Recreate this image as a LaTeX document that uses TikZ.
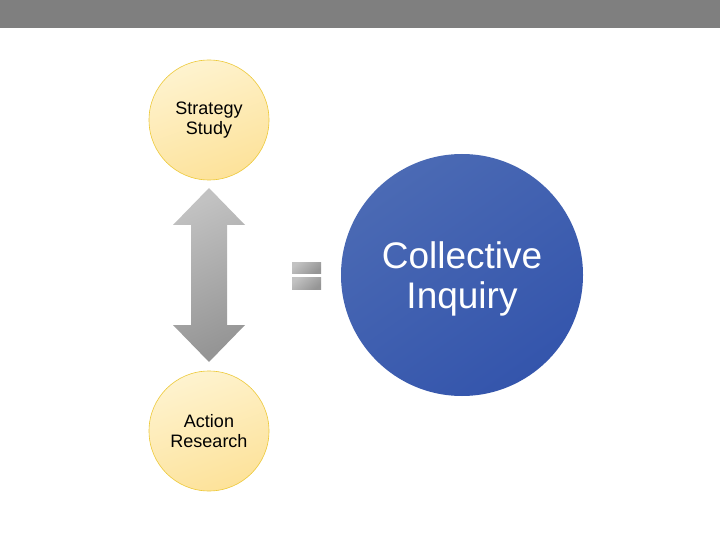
\documentclass[tikz,border=0pt]{standalone}
\usepackage{fontspec}
\setmainfont{Liberation Sans}
\definecolor{topbar}{HTML}{7F7F7F}
\definecolor{ylwA}{HTML}{FEF3CF}
\definecolor{ylwB}{HTML}{FDE29A}
\definecolor{ylwE}{HTML}{EDC938}
\definecolor{bluA}{HTML}{4B6AB4}
\definecolor{bluB}{HTML}{3455AC}
\definecolor{gryA}{HTML}{C2C2C2}
\definecolor{gryB}{HTML}{959595}
\begin{document}
\begin{tikzpicture}[x=1pt,y=-1pt,
  smallcircle/.style={circle,draw=ylwE,line width=0.6pt,minimum size=120pt,inner sep=0pt,
    top color=ylwA,bottom color=ylwB,shading angle=20,align=center,
    font=\fontsize{18}{20.5}\selectfont},
  bigcircle/.style={circle,minimum size=242pt,inner sep=0pt,
    top color=bluA,bottom color=bluB,shading angle=35,text=white,align=center,
    font=\fontsize{37}{41}\selectfont},
  grayshape/.style={top color=gryA,bottom color=gryB,draw=none}]
\useasboundingbox (0,0) rectangle (720,540);
\fill[white] (0,0) rectangle (720,540);
\fill[topbar] (0,0) rectangle (720,28);
\node[smallcircle] (ss) at (209,120) {Strategy\\Study};
\node[smallcircle] (ar) at (209,431) {Action\\Research};
\node[bigcircle] (ci) at (462,275) {\raisebox{-5pt}[\height][\depth]{\begin{tabular}{@{}c@{}}Collective\\[-1pt]Inquiry\end{tabular}}};
% double arrow
\coordinate (tt) at (209,188);
\coordinate (bt) at (209,362);
\shade[grayshape,shading angle=25] (tt) -- (245,225) -- (227,225) -- (227,325) -- (245,325)
  -- (bt) -- (173,325) -- (191,325) -- (191,225) -- (173,225) -- cycle;
% equals sign
\shade[grayshape,shading angle=40] (292,262) rectangle (321,273);
\shade[grayshape,shading angle=40] (292,277) rectangle (321,289);
\end{tikzpicture}
\end{document}
